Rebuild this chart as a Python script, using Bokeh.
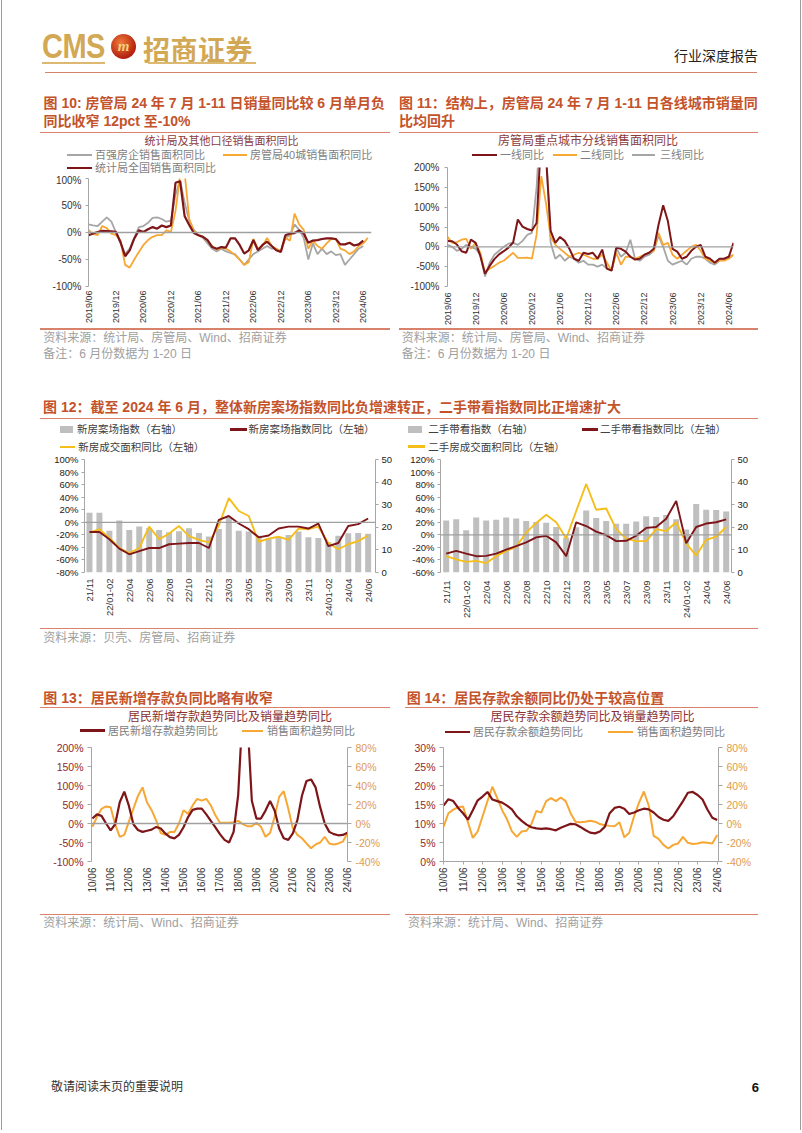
import math
from bokeh.plotting import figure
from bokeh.models import (Range1d, LinearAxis, Span, FixedTicker, PrintfTickFormatter, Div, Spacer)
from bokeh.layouts import column, row
from bokeh.embed import file_html
from bokeh.resources import INLINE

LATIN = "Liberation Sans"
FONT_CSS = "'Liberation Sans','Noto Sans CJK SC',sans-serif"
CJK_CSS = "'Noto Sans CJK SC',sans-serif"

DARK = "#7E1518"
ORANGE = "#F7A734"
GRAY = "#A6A6A6"
YELLOW = "#F5BE1B"
BAR = "#BFBFBF"
AXIS = "#A6A6A6"
TITLE_RED = "#C4532B"
RULE = "#D9826B"
SRC = "#A0A0A0"
CT = "#8B3B3B"

# ---------------- chart 10 data (monthly, 2019/06 .. ) ----------------
c10_ticks = ["2019/06", "2019/12", "2020/06", "2020/12", "2021/06", "2021/12",
             "2022/06", "2022/12", "2023/06", "2023/12", "2024/06"]
c10_top100 = [15, 13, 12, 20, 28, 20, 0, -20, -40, -30, -10, 10, 12, 18, 27, 28, 25, 20, 22, 70,
              97, 55, 22, 5, -5, -10, -20, -30, -35, -30, -35, -38, -40, -50, -60, -50, -40, -35, -30, -25,
              -30, -30, -35, -10, -5, 15, 5, -10, -50, -20, -40, -30, -40, -35, -42, -40, -60, -50, -40, -30,
              -25]
c10_city40 = [5, -3, -5, 12, 8, -2, -5, -15, -60, -65, -50, -36, -23, -14, -8, -5, -5, 4, 1, 40,
              105, 110, 25, 3, -5, -8, -15, -25, -32, -28, -30, -35, -42, -50, -60, -55, -12, -30, -25, -10,
              -25, -30, -35, -10, -15, 35, 15, 5, -30, -15, -25, -30, -20, -12, -12, -30, -33, -40, -35, -25,
              -20, -10]
c10_nbs = [-5, -2, 1, 3, 2.5, 2, 1, -18, -44, -33, -11, 4, 1, 6, 10, 7, 13, 10, 13, 92,
           95, 30, 14, -1, -5, -8, -14, -27, -30, -27, -28, -11, -11, -23, -39, -33, -14, -33, -23, -17,
           -25, -33, -36, -5, -2, -1, 4, -2, -19, -15, -14, -12, -11, -11, -12, -22, -22, -19, -24, -22,
           -15]

# ---------------- chart 11 data ----------------
c11_tier1 = [15, 14, 6, -11, -15, 18, 10, -23, -68, -48, -31, -19, -11, -2, 11, 69, 51, 45, 41, 60,
             280, 230, 40, 10, 25, 15, -5, -30, -35, -15, -18, -15, -30, -7, -55, -60, -2, -5, -12, -25,
             -32, -30, -20, -15, -5, 55, 105, 65, -5, -12, -30, -25, -10, 0, 5, -25, -30, -40, -30, -30,
             -25, 10]
c11_tier2 = [25, 10, 12, 18, 20, -5, 10, -15, -65, -55, -48, -40, -35, -25, -15, -28, -28, -27, -30, 30,
             178, 110, 25, 5, -5, -15, -25, -20, -15, -20, -25, -30, -30, -20, -40, -60, -15, -45, -25, -25,
             -30, -25, -20, -15, -10, 35, 5, 10, -20, -30, -20, -10, 0, 5, -10, -30, -35, -40, -35, -35,
             -30, -20]
c11_tier3 = [5, 0, -10, -5, 5, 0, -5, -20, -75, -40, -20, -10, 0, 8, 10, 5, 15, 30, 35, 150,
             350, 250, 10, -30, -20, -35, -25, -30, -40, -35, -45, -45, -50, -45, -55, -60, -3, -25, -15, 18,
             -30, -35, -25, -20, -10, 28, 0, -35, -45, -40, -35, -45, -30, -25, -25, -30, -40, -45, -35, -30,
             -25, -20]

# ---------------- chart 12 data ----------------
c12_cats = ["21/11", "21/12", "22/01-02", "22/03", "22/04", "22/05", "22/06", "22/07", "22/08", "22/09",
            "22/10", "22/11", "22/12", "23/01-02", "23/03", "23/04", "23/05", "23/06", "23/07", "23/08",
            "23/09", "23/10", "23/11", "23/12", "24/01-02", "24/03", "24/04", "24/05", "24/06"]
new_idx = [26.4, 26.4, 18.5, 23.0, 18.8, 20.3, 19.7, 18.8, 17.8, 18.2, 19.6, 17.5, 15.9, 19.3, 24.5,
           18.5, 18.1, 16.3, 15.1, 15.6, 16.6, 18.1, 15.6, 15.3, 13.4, 16.3, 17.4, 17.5, 17.1]
new_idx_yoy = [-15.5, -15.5, -27, -42, -51, -46, -41, -41, -35, -34, -33, -33, -41, 4, 10,
               -2, -11, -24, -21, -10, -7, -7, -10, -2, -38, -33, -6, -3, 6]
new_area_yoy = [-16.5, -11, -25, -41, -49, -41, -7, -27, -18, -6, -22, -28, -32, -5, 38.5,
                18, 10, -31, -26, -23, -28, -10, -11, -7, -33, -43, -35, -30, -21]
sh_idx = [23.0, 23.6, 18.7, 24.3, 23.0, 23.3, 24.3, 23.9, 22.8, 22.3, 22.0, 20.1, 15.5, 20.0, 27.4,
          24.1, 22.8, 21.6, 21.6, 22.6, 24.9, 24.6, 25.4, 23.6, 19.0, 30.3, 27.8, 27.7, 27.0]
sh_idx_yoy = [-30, -25.5, -30, -34, -33.5, -30, -23.5, -18, -12, -4, -1.5, -12, -34, 20, 14,
              5, -0.5, -10, -9.5, -1.5, 11, 12.5, 25.5, 54, -13.5, 12.5, 18, 20, 24.5]
sh_area_yoy = [-34, -39, -43, -41.5, -45, -34, -25.5, -19, 3.5, 19, 32, 20, -6, 38, 81,
               40, 42, 9, -6, -10, -10, 9, 6, 20, -13.5, -33, -8, -3, 12.5]

# ---------------- chart 13 / 14 data (quarterly samples from 2010/06) ----------------
c1314_ticks = ["10/06", "11/06", "12/06", "13/06", "14/06", "15/06", "16/06", "17/06",
               "18/06", "19/06", "20/06", "21/06", "22/06", "23/06", "24/06"]
c13_deposit_new = [13, 24, 20, 0, -18, -2, 56, 84, 47, -2, -17, -22, -19, -16, -9, -13, -26, -36, -39, -30,
                   -10, 17, 36, 39, 39, 24, 7, -10, -28, -43, -50, -22, 75, 300, 280, 60, 13, 13, 34, 59,
                   34, -13, -39, -43, -26, 9, 73, 112, 116, 95, 43, 0, -22, -28, -31, -30, -24]
c13_sales = [-3.4, 7, 15.5, 18, 17, -1, -14, -12, 2, 15.5, 29, 38, 22, 14, 3, -10, -12, -9, -9, 0,
             14, 10, 19, 26, 24, 26, 19, 8.6, 0.7, 0.7, 0.7, 1.4, 2.8, -0.7, -2.8, -2.8, 0.7, -3.4, -14, -10,
             7, 28, 34, 15.5, -5, -12, -15.5, -21, -26, -22, -20, -14, -21, -22, -21, -19, -10]
c14_balance = [14.7, 16.4, 15.9, 14.1, 12.7, 11.0, 13.5, 16.1, 17.1, 18.3, 16.3, 15.9, 15.5, 14.7, 13.7,
               11.9, 10.7, 9.7, 9.0, 8.7, 8.6, 8.7, 8.5, 8.2, 8.9, 9.4, 9.9, 9.8, 9.1, 8.3,
               7.6, 7.4, 7.9, 9.1, 12.7, 14.1, 14.4, 13.9, 12.5, 12.9, 13.5, 13.9, 13.7, 12.9, 11.7,
               11.0, 10.7, 11.9, 13.9, 15.9, 18.1, 18.3, 17.5, 16.3, 13.7, 11.5, 10.9]
c14_sales = [-3.5, 10.8, 14.6, 17.1, 17.8, 1.3, -15.2, -8.3, 7.6, 23.5, 38.7, 26.7, 14, 4.4, -8.3,
             -14, -8.3, -7.6, -0.3, 13.3, 11.4, 23.5, 26.7, 23.5, 27.3, 23.5, 10.8, 1.9, 1.3, 1.9,
             2.9, 1.9, -0.6, -1.9, -2.5, -2.9, 1.3, -14.6, -9.8, 7.6, 21.9, 33.7, 18.7, -13, -16.2,
             -22.5, -26.3, -22.5, -21, -14, -20.3, -21.6, -21, -19.7, -20.3, -21, -12]
STEP_Q = 3  # months between samples


# ---------------- helpers ----------------
def make_fig(w, h, left, right, top, bottom, xr, yr):
    p = figure(width=w, height=h, x_range=xr, y_range=yr, output_backend="svg",
               toolbar_location=None, min_border_left=left, min_border_right=right,
               min_border_top=top, min_border_bottom=bottom, outline_line_color=None,
               background_fill_color="white", border_fill_color="white")
    p.xgrid.visible = False
    p.ygrid.visible = False
    return p


def style_y(ax, ticks, color="#333333", size="10px", standoff=4, tick_out=3, fmt="%d%%"):
    ax.ticker = FixedTicker(ticks=ticks)
    if fmt:
        ax.formatter = PrintfTickFormatter(format=fmt)
    ax.axis_line_color = AXIS
    ax.major_tick_line_color = AXIS
    ax.major_tick_out = tick_out
    ax.major_tick_in = 0
    ax.minor_tick_line_color = None
    ax.major_label_text_font = LATIN
    ax.major_label_text_font_size = size
    ax.major_label_text_color = color
    ax.major_label_standoff = standoff


def style_x(ax, ticks, labels, size="9px", standoff=4, line=False):
    ax.ticker = FixedTicker(ticks=ticks)
    ax.major_label_overrides = {t: l for t, l in zip(ticks, labels)}
    ax.major_label_orientation = math.pi / 2
    ax.minor_tick_line_color = None
    ax.major_label_text_font = LATIN
    ax.major_label_text_font_size = size
    ax.major_label_text_color = "#333333"
    ax.major_label_standoff = standoff
    if line:
        ax.axis_line_color = AXIS
        ax.major_tick_line_color = AXIS
        ax.major_tick_out = 3
        ax.major_tick_in = 0
    else:
        ax.axis_line_color = None
        ax.major_tick_line_color = None
        ax.major_tick_out = 0
        ax.major_tick_in = 0


def zero_line(p):
    p.add_layout(Span(location=0, dimension="width", line_color="#A0A0A0", line_width=1.3, level="glyph"))


# ---------------- chart 10 ----------------
p10 = make_fig(387, 154, 80, 24, 4, 42, Range1d(0, 61.8), Range1d(-100, 100))
style_y(p10.yaxis[0], [-100, -50, 0, 50, 100], size="10px", standoff=4)
style_x(p10.xaxis[0], list(range(0, 61, 6)), c10_ticks, size="9px", standoff=4)
zero_line(p10)
p10.line(list(range(len(c10_top100))), c10_top100, line_color=GRAY, line_width=1.8)
p10.line(list(range(len(c10_city40))), c10_city40, line_color=ORANGE, line_width=1.8)
p10.line(list(range(len(c10_nbs))), c10_nbs, line_color=DARK, line_width=2.2)

# ---------------- chart 11 ----------------
p11 = make_fig(399, 167, 52, 61, 6, 41, Range1d(0, 61), Range1d(-100, 200))
style_y(p11.yaxis[0], [-100, -50, 0, 50, 100, 150, 200], size="10px", standoff=5)
style_x(p11.xaxis[0], list(range(0, 61, 6)), c10_ticks, size="9px", standoff=6)
zero_line(p11)
p11.line(list(range(len(c11_tier3))), c11_tier3, line_color=GRAY, line_width=1.8)
p11.line(list(range(len(c11_tier2))), c11_tier2, line_color=ORANGE, line_width=1.8)
p11.line(list(range(len(c11_tier1))), c11_tier1, line_color=DARK, line_width=2.0)


# ---------------- chart 12 ----------------
def chart12(w, left, right, top, xr, yr, lticks, bars, yoy, area, xstand):
    p = make_fig(w, 173, left, right, top, 54, xr, yr)
    p.extra_y_ranges = {"r": Range1d(0, 50)}
    style_y(p.yaxis[0], lticks, color="#222222", size="9.5px", standoff=3)
    rax = LinearAxis(y_range_name="r")
    style_y(rax, [0, 10, 20, 30, 40, 50], color="#222222", size="9.5px", standoff=3, fmt=None)
    p.add_layout(rax, "right")
    idx = list(range(len(c12_cats)))
    style_x(p.xaxis[0], idx[::2], c12_cats[::2], size="9.5px", standoff=xstand)
    p.vbar(x=idx, top=bars, bottom=0, width=0.6, y_range_name="r", fill_color=BAR, line_color=None)
    zero_line(p)
    p.line(idx, area, line_color=YELLOW, line_width=1.9)
    p.line(idx, yoy, line_color=DARK, line_width=1.9)
    return p


p12a = chart12(387, 76, 18, 6, Range1d(-0.5, 28.74), Range1d(-80, 100),
               [-80, -60, -40, -20, 0, 20, 40, 60, 80, 100], new_idx, new_idx_yoy, new_area_yoy, 6)
p12b = chart12(399, 45, 63, 4, Range1d(-0.57, 28.53), Range1d(-60, 120),
               [-60, -40, -20, 0, 20, 40, 60, 80, 100, 120], sh_idx, sh_idx_yoy, sh_area_yoy, 8)


# ---------------- chart 13 / 14 ----------------
def chart1314(w, left, right, top, bottom, xr, yr, lticks, left_vals, right_vals, zero, xline):
    p = make_fig(w, 174, left, right, top, bottom, xr, yr)
    p.extra_y_ranges = {"r": Range1d(-40, 80)}
    style_y(p.yaxis[0], lticks, color="#8E2A2A", size="10.5px", standoff=4, tick_out=4)
    rax = LinearAxis(y_range_name="r")
    style_y(rax, [-40, -20, 0, 20, 40, 60, 80], color="#E09A4E", size="10.5px", standoff=4, tick_out=4)
    p.add_layout(rax, "right")
    style_x(p.xaxis[0], list(range(0, 169, 12)), c1314_ticks, size="10px", standoff=3 if xline else 6,
            line=xline)
    if zero:
        zero_line(p)
    xl = [STEP_Q * i for i in range(len(left_vals))]
    xr2 = [STEP_Q * i for i in range(len(right_vals))]
    p.line(xr2, right_vals, y_range_name="r", line_color=ORANGE, line_width=2.0)
    p.line(xl, left_vals, line_color=DARK, line_width=2.2)
    return p


p13 = chart1314(387, 83, 48, 5, 52, Range1d(-0.6, 168), Range1d(-100, 200),
                [-100, -50, 0, 50, 100, 150, 200], c13_deposit_new, c13_sales, True, False)
p14 = chart1314(399, 48, 76, 8, 40, Range1d(0, 168.8), Range1d(0, 30),
                [0, 5, 10, 15, 20, 25, 30], c14_balance, c14_sales, False, True)


# ---------------- page text bands (HTML) ----------------
def T(x, y, s, size, color, weight="normal", right=None, extra="", font=FONT_CSS, center=False):
    pos = f"right:{right}px;" if right is not None else f"left:{x}px;"
    tr = "translate(-50%,-50%)" if center else "translateY(-50%)"
    return (f'<div style="position:absolute;{pos}top:{y}px;transform:{tr};'
            f'font-size:{size}px;line-height:1;color:{color};font-weight:{weight};'
            f'white-space:nowrap;font-family:{font};{extra}">{s}</div>')


def R(x1, x2, y, color=RULE, w=1.3):
    return (f'<div style="position:absolute;left:{x1}px;top:{y - w / 2}px;width:{x2 - x1}px;height:{w}px;'
            f'background:{color};"></div>')


def BOX(x1, x2, y, h, color):
    return (f'<div style="position:absolute;left:{x1}px;top:{y - h / 2}px;width:{x2 - x1}px;height:{h}px;'
            f'background:{color};"></div>')


def band(w, h, parts):
    html = (f'<div style="position:relative;width:{w}px;height:{h}px;overflow:hidden;margin:0;padding:0;">'
            + "".join(parts) + "</div>")
    return Div(text=html, width=w, height=h, margin=(0, 0, 0, 0))


GOLD = "#D3A855"
emblem = ('<div style="position:absolute;left:103px;top:26px;width:25px;height:25px;border-radius:50%;'
          'background:radial-gradient(circle at 40% 35%, #F07A3A, #B3200F 70%);'
          'color:#F4D27A;font:italic bold 15px \'Liberation Serif\',serif;text-align:center;'
          'line-height:25px;">m</div>')
header = band(786, 77, [
    T(34, 39, "CMS", 29, GOLD, "bold", extra="transform:translateY(-50%) scaleY(1.2);letter-spacing:-0.5px;"),
    emblem,
    T(135, 40, "招商证券", 27, GOLD, "bold", font=CJK_CSS, extra="letter-spacing:0.5px;"),
    R(34, 97, 55, color="#DDB870", w=2),
    R(140, 248, 55, color="#DDB870", w=2),
    T(0, 48, "行业深度报告", 14, "#222222", right=36),
    R(37, 749, 64.5, color="#D4826E", w=1.5),
])

LEGC = "#7F7F7F"
top10 = band(387, 89, [
    T(35.5, 18, "图 10: 房管局 24 年 7 月 1-11 日销量同比较 6 月单月负", 14, TITLE_RED, "bold"),
    T(35.5, 36, "同比收窄 12pct 至-10%", 14, TITLE_RED, "bold"),
    R(32, 382, 47.3),
    T(213.5, 55.5, "统计局及其他口径销售面积同比", 11, CT, center=True),
    R(58.7, 83.7, 70, color=GRAY, w=2),
    T(87, 70, "百强房企销售面积同比", 11, LEGC),
    R(215, 239, 70, color=ORANGE, w=2),
    T(242, 70, "房管局40城销售面积同比", 11, LEGC),
    R(58.7, 83.7, 82.8, color=DARK, w=2.5),
    T(87, 82.8, "统计局全国销售面积同比", 11, LEGC),
])
top11 = band(399, 76, [
    T(4, 18, "图 11：结构上，房管局 24 年 7 月 1-11 日各线城市销量同", 14, TITLE_RED, "bold"),
    T(4, 36, "比均回升", 14, TITLE_RED, "bold"),
    R(4, 363, 47.3),
    T(193, 55.5, "房管局重点城市分线销售面积同比", 12, CT, center=True),
    R(77, 102, 70, color=DARK, w=2.5),
    T(105, 70, "一线同比", 11, LEGC),
    R(158, 182, 70, color=ORANGE, w=2),
    T(185, 70, "二线同比", 11, LEGC),
    R(237, 260, 70, color=GRAY, w=2),
    T(265, 70, "三线同比", 11, LEGC),
])

L12 = "#404040"
bandB = band(786, 125, [
    R(32, 382, 1),
    R(391, 750, 1),
    T(35.3, 10.3, "资料来源：统计局、房管局、Wind、招商证券", 12, SRC),
    T(35.3, 26.3, "备注：6 月份数据为 1-20 日", 12, SRC),
    T(393.7, 10.3, "资料来源：统计局、房管局、Wind、招商证券", 12, SRC),
    T(393.7, 26.3, "备注：6 月份数据为 1-20 日", 12, SRC),
    T(35, 79, "图 12：截至 2024 年 6 月，整体新房案场指数同比负增速转正，二手带看指数同比正增速扩大",
      14, TITLE_RED, "bold"),
    R(32, 750, 90.5),
    BOX(52, 65, 101.3, 7, BAR),
    T(69, 101.3, "新房案场指数（右轴）", 10.5, L12),
    R(222, 239, 101.3, color=DARK, w=2.5),
    T(240.5, 101.3, "新房案场指数同比（左轴）", 10.5, L12),
    R(52, 67, 119, color=YELLOW, w=2.5),
    T(70.3, 119, "新房成交面积同比（左轴）", 10.5, L12),
    BOX(400.3, 413.7, 101.3, 7, BAR),
    T(420.3, 101.3, "二手带看指数（右轴）", 10.5, L12),
    R(573.7, 590.3, 101.3, color=DARK, w=2.5),
    T(592, 101.3, "二手带看指数同比（左轴）", 10.5, L12),
    R(400.3, 417, 118.5, color=YELLOW, w=2.5),
    T(420.3, 118.5, "二手房成交面积同比（左轴）", 10.5, L12),
])

L13 = "#808080"
CT2 = "#8B2F2F"
bandD = band(786, 113, [
    R(32, 750, 2.3),
    T(35.3, 11.7, "资料来源：贝壳、房管局、招商证券", 12, SRC),
    T(35.3, 71.7, "图 13：居民新增存款负同比略有收窄", 14, TITLE_RED, "bold"),
    T(398.7, 71.7, "图 14：居民存款余额同比仍处于较高位置", 14, TITLE_RED, "bold"),
    R(32, 382, 81.7),
    R(397, 750, 81.7),
    T(222, 90.7, "居民新增存款趋势同比及销量趋势同比", 12, CT2, center=True),
    T(584.5, 91.3, "居民存款余额趋势同比及销量趋势同比", 12, CT2, center=True),
    R(72, 97, 104.7, color=DARK, w=2.5),
    T(100, 104.7, "居民新增存款趋势同比", 11, L13),
    R(234, 255, 104.7, color=ORANGE, w=2.2),
    T(259, 104.7, "销售面积趋势同比", 11, L13),
    R(437, 462, 106.2, color=DARK, w=2.5),
    T(465, 106.2, "居民存款余额趋势同比", 11, L13),
    R(600, 625, 106.2, color=ORANGE, w=2.2),
    T(629, 106.2, "销售面积趋势同比", 11, L13),
])

bandF = band(786, 212, [
    R(32, 382, 1.3),
    R(397, 750, 1.3),
    T(35.3, 10.3, "资料来源：统计局、Wind、招商证券", 12, SRC),
    T(400, 10.3, "资料来源：统计局、Wind、招商证券", 12, SRC),
    T(43, 174, "敬请阅读末页的重要说明", 12, "#333333"),
    T(0, 174, "6", 13, "#111111", "bold", right=35),
])

main = column(
    header,
    row(column(top10, p10, spacing=0), column(top11, p11, spacing=0), spacing=0),
    bandB,
    row(p12a, p12b, spacing=0),
    bandD,
    row(p13, p14, spacing=0),
    bandF,
    spacing=0,
)

# thin page edges at the left and right, as in the scanned page
edge_l = band(8, 1130, [R(0.5, 1.5, 565, color="#9C9C9C", w=1130)])
edge_r = band(8, 1130, [R(6, 7, 565, color="#9C9C9C", w=1130)])

page = row(edge_l, column(Spacer(width=10, height=8), main, spacing=0), edge_r, spacing=0)

open("out.html", "w").write(file_html(page, INLINE))
